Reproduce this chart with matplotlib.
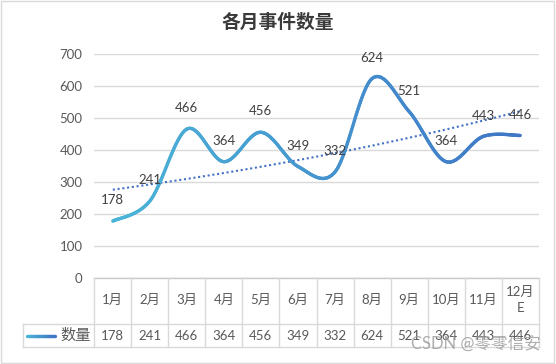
import numpy as np
import matplotlib
matplotlib.use("Agg")
import matplotlib.pyplot as plt
import matplotlib.transforms as mtransforms
from matplotlib.collections import LineCollection
from matplotlib.colors import LinearSegmentedColormap
from matplotlib.patches import Rectangle

plt.rcParams['font.family'] = ['Lato', 'Noto Sans CJK SC', 'DejaVu Sans']

months = ["1月", "2月", "3月", "4月", "5月", "6月", "7月", "8月", "9月", "10月", "11月", "12月\nE"]
counts = [178, 241, 466, 364, 456, 349, 332, 624, 521, 364, 443, 446]
series_name = "数量"
title = "各月事件数量"

W, H = 556, 364
fig = plt.figure(figsize=(W / 100, H / 100), dpi=100)

# plot area in pixels (left, right, top, bottom)
L, R, T, B = 94.3, 538.7, 54.3, 278.0
ax = fig.add_axes([L / W, 1 - B / H, (R - L) / W, (B - T) / H])

# pixel transform, origin top-left
pxt = mtransforms.Affine2D().scale(1 / W, -1 / H).translate(0, 1) + fig.transFigure

txt = '#595959'
grid = '#D9D9D9'

n = len(counts)
x = np.arange(n, dtype=float)
y = np.array(counts, dtype=float)


# excel style smoothing: cubic bezier with catmull-rom control points
def smooth(x, y, steps=40):
    px, py = [], []
    for i in range(len(x) - 1):
        i0 = max(i - 1, 0)
        i3 = min(i + 2, len(x) - 1)
        c1x = x[i] + (x[i + 1] - x[i0]) / 6
        c1y = y[i] + (y[i + 1] - y[i0]) / 6
        c2x = x[i + 1] - (x[i3] - x[i]) / 6
        c2y = y[i + 1] - (y[i3] - y[i]) / 6
        t = np.linspace(0, 1, steps, endpoint=(i == len(x) - 2))
        a, b, c, d = (1 - t) ** 3, 3 * (1 - t) ** 2 * t, 3 * (1 - t) * t ** 2, t ** 3
        px.append(a * x[i] + b * c1x + c * c2x + d * x[i + 1])
        py.append(a * y[i] + b * c1y + c * c2y + d * y[i + 1])
    return np.concatenate(px), np.concatenate(py)


sx, sy = smooth(x, y)
cmap = LinearSegmentedColormap.from_list('blu', ['#4BB5D8', '#3F76C6'])
pts = np.column_stack([sx, sy]).reshape(-1, 1, 2)
segs = np.concatenate([pts[:-1], pts[1:]], axis=1)
lc = LineCollection(segs, cmap=cmap, linewidths=2.4, capstyle='round', joinstyle='round', zorder=3)
lc.set_array((sx[:-1] + sx[1:]) / 2 / (n - 1))
lc.set_clim(0, 1)
ax.add_collection(lc)

# exponential trendline
b_, a_ = np.polyfit(x + 1, np.log(y), 1)
tx = np.linspace(0, n - 1, 100)
ax.plot(tx, np.exp(a_ + b_ * (tx + 1)), color='#4472C4', lw=1.5, ls=(0, (1, 1.3)), zorder=2)

for xi, yi in zip(x, counts):
    ax.annotate(str(yi), (xi, yi), xytext=(0, 15), textcoords='offset points',
                ha='center', va='center', fontsize=9.5, color='#404040', zorder=4)

ax.set_xlim(-0.5, n - 0.5)
ax.set_ylim(0, 700)
ax.set_yticks(range(0, 701, 100))
ax.set_xticks([])
ax.tick_params(axis='y', length=0, pad=8.5, labelsize=9.5, labelcolor=txt)
ax.grid(axis='y', color=grid, lw=1)
for s in ['left', 'right', 'top']:
    ax.spines[s].set_visible(False)
ax.spines['bottom'].set_color('#C9C9C9')
ax.spines['bottom'].set_linewidth(1)
ax.set_axisbelow(True)

fig.text(0.5, 1 - 22 / H, title, ha='center', va='center', fontsize=13.5,
         fontweight='bold', color='#3A3A3A', family=['Noto Sans CJK SC'])

# data table
colw = (R - L) / n
row1, row2 = 324.0, 347.3
kx = 23.3
lines = [
    ([kx, R], [row1, row1]),
    ([kx, R], [row2, row2]),
    ([kx, kx], [row1, row2]),
]
for i in range(n + 1):
    xb = L + i * colw
    lines.append(([xb, xb], [B, row2]))
for xs, ys in lines:
    fig.add_artist(plt.Line2D(xs, ys, color=grid, lw=1, transform=pxt))

for i, (m, v) in enumerate(zip(months, counts)):
    cx = L + (i + 0.5) * colw
    fig.text(cx, (B + row1) / 2 - 1, m, transform=pxt, ha='center', va='center',
             fontsize=9.5, color=txt, linespacing=1.45)
    fig.text(cx, (row1 + row2) / 2, str(v), transform=pxt, ha='center', va='center',
             fontsize=9.5, color=txt)

# legend key inside the table row label
kc = LinearSegmentedColormap.from_list('k', ['#4BB5D8', '#3F76C6'])
kxs = np.linspace(26.5, 55, 20)
kseg = [[(kxs[j], 335.5), (kxs[j + 1], 335.5)] for j in range(len(kxs) - 1)]
klc = LineCollection(kseg, colors=[kc(j / 18) for j in range(19)], linewidths=2.4,
                     transform=pxt, capstyle='round')
fig.add_artist(klc)
fig.text(91, (row1 + row2) / 2, series_name, transform=pxt, ha='right', va='center',
         fontsize=11, color=txt)

# watermark
fig.text(541, 344, "CSDN @零零信安", transform=pxt, ha='right', va='center',
         fontsize=12, color='#9A9A9A', alpha=0.8)

# chart border
fig.add_artist(Rectangle((1, 1), 553, 362, transform=pxt, fill=False, ec='#D9D9D9', lw=1))

fig.savefig("out.png", dpi=100)
